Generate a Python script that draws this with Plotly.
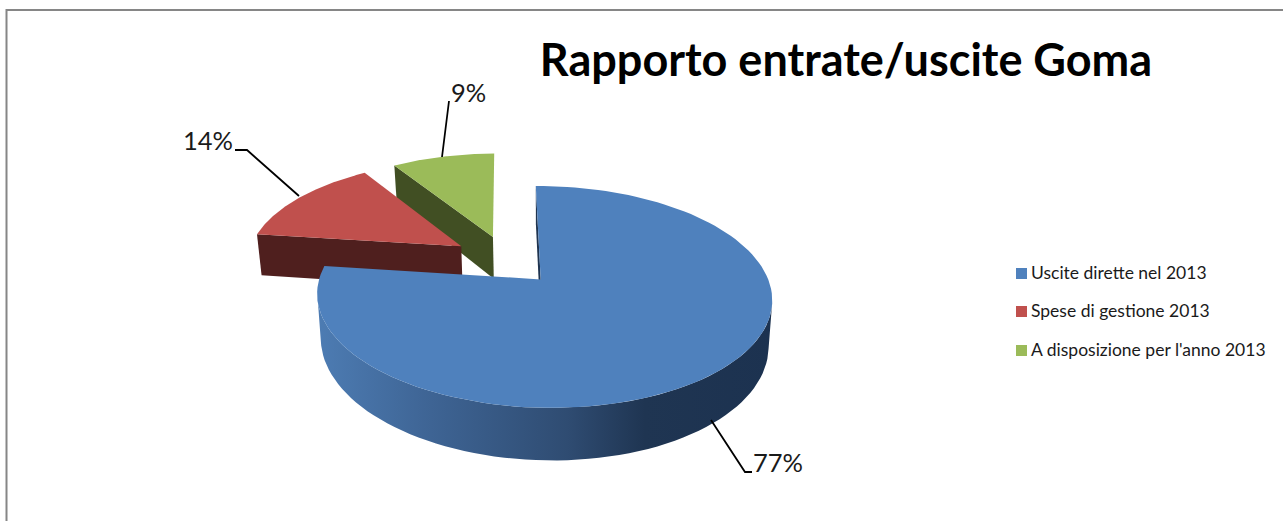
import math
import plotly.graph_objects as go

categories = ["Uscite dirette nel 2013", "Spese di gestione 2013", "A disposizione per l'anno 2013"]
values = [77, 14, 9]
top_colors = ["#4f81bd", "#c0504d", "#9bbb59"]
wall_colors = ["#1f3450", "#4f1f1e", "#414f23"]
title_text = "Rapporto entrate/uscite Goma"

# Pie geometry: a tilted disc in perspective, each slice pulled out along its mid angle
CX, CY, RX, RY, SKEW = 507, 260, 218, 102.5, -0.5
K, M, EXPLODE, HEIGHT, LEAN_X, LEAN = 0.154, -0.013, 0.22, 43, 544, 0.984
SLICE_NUDGE = [(1, 2), (-6, -2), (-1, -2)]
BLUE_WALL = [[0, "#4d7cb3"], [0.25, "#3e6494"], [0.55, "#2f4c72"], [0.72, "#1f3552"], [1, "#1c3250"]]


def project(u, v, nudge, wall=False):
    d = 1 + K * v + M * u
    x = CX + (RX * u + SKEW * v) / d + nudge[0]
    y = CY - RY * v / d + nudge[1]
    if wall:
        y += HEIGHT / d
        x = LEAN_X + (x - LEAN_X) * LEAN
    return x, y


def point(t, ox, oy, nudge, wall=False):
    a = math.radians(t)
    return project(ox + math.sin(a), oy + math.cos(a), nudge, wall)


def polygon(points, color=None, gradient=None):
    xs, ys = zip(*points)
    kw = dict(fillgradient=gradient) if gradient else dict(fillcolor=color)
    return go.Scatter(x=list(xs) + [xs[0]], y=list(ys) + [ys[0]], mode="lines", fill="toself",
                      line=dict(width=0), hoverinfo="skip", showlegend=False, **kw)


total = sum(values)
spans = []
start = 0.0
for v in values:
    sweep = 360 * v / total
    spans.append((start, start + sweep))
    start += sweep

fig = go.Figure()
for i in [2, 1, 0]:  # back slices first
    t0, t1 = spans[i]
    n = SLICE_NUDGE[i]
    mid = math.radians((t0 + t1) / 2)
    ox, oy = EXPLODE * math.sin(mid), EXPLODE * math.cos(mid)
    apex, apex_w = project(ox, oy, n), project(ox, oy, n, True)
    steps = [t0 + (t1 - t0) * s / 120 for s in range(121)]
    rim = [point(t, ox, oy, n) for t in steps]
    # radial face at the slice's start
    fig.add_trace(polygon([apex, rim[0], point(t0, ox, oy, n, True), apex_w], wall_colors[i]))
    if i == 0:
        # outer wall between the disc's left and right silhouette, with a horizontal shading
        right = max(range(len(rim)), key=lambda j: rim[j][0])
        left = min(range(len(rim)), key=lambda j: rim[j][0])
        arc = steps[right:left + 1]
        front = [point(t, ox, oy, n) for t in arc]
        back = [point(t, ox, oy, n, True) for t in reversed(arc)]
        fig.add_trace(polygon(front + back, gradient=dict(type="horizontal", colorscale=BLUE_WALL)))
    fig.add_trace(polygon([apex] + rim, top_colors[i]))

# Leader lines and percentage labels
leaders = [([711, 745, 752], [420, 472, 472], 778, 462),
           ([299, 247, 235], [196, 150, 150], 208, 140),
           ([442, 449], [157, 101], 468, 92)]
for v, (lx, ly, tx, ty) in zip(values, leaders):
    fig.add_trace(go.Scatter(x=lx, y=ly, mode="lines", line=dict(color="#000000", width=1.8),
                             hoverinfo="skip", showlegend=False))
    fig.add_annotation(x=tx, y=ty, text=f"{v}%", showarrow=False, xanchor="center", yanchor="middle",
                       font=dict(family="Lato", size=25.5, color="#1a1a1a"))

# Legend
legend_y = [273, 311, 350]
fig.add_trace(go.Scatter(x=[1021.5] * 3, y=[y + 0.5 for y in legend_y], mode="markers",
                         marker=dict(symbol="square", size=11, color=top_colors, line=dict(width=0)),
                         hoverinfo="skip", showlegend=False))
fig.add_trace(go.Scatter(x=[1031] * 3, y=[y + 1.5 for y in legend_y], mode="text", text=categories,
                         textposition="middle right", textfont=dict(family="Lato", size=17.5, color="#1a1a1a"),
                         hoverinfo="skip", showlegend=False))

# Chart frame: clipped at the right and bottom of the picture
fig.add_trace(go.Scatter(x=[6.5, 6.5, 1283], y=[521, 10, 10], mode="lines",
                         line=dict(color="#868686", width=2), hoverinfo="skip", showlegend=False))

fig.update_layout(
    width=1283, height=521, margin=dict(l=0, r=0, t=0, b=0),
    paper_bgcolor="#ffffff", plot_bgcolor="#ffffff", showlegend=False,
    xaxis=dict(range=[0, 1283], visible=False, fixedrange=True),
    yaxis=dict(range=[521, 0], visible=False, fixedrange=True),
    title=dict(text=f"<b>{title_text}</b>", x=846 / 1283, xanchor="center", y=1 - 60 / 521, yanchor="middle",
               font=dict(family="Lato", size=45, color="#000000")),
)
fig.write_html("out.html", config={"displayModeBar": False},
               post_script="document.body.style.margin='0';document.documentElement.style.overflow='hidden';")
